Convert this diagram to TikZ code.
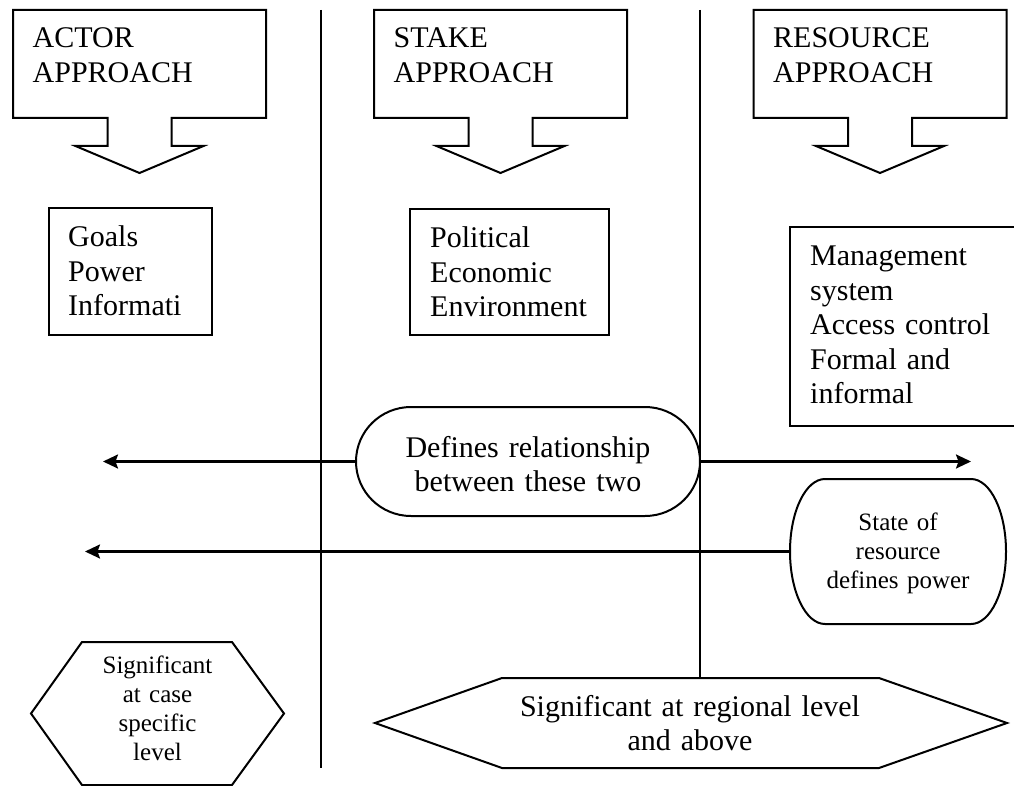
\documentclass[tikz,border=0pt]{standalone}
\usepackage{fontspec}
\setmainfont{Liberation Serif}
\usetikzlibrary{arrows.meta,calc}

% Heading box with a block arrow underneath: #1 name, #2 centre x, #3 heading
\newcommand\approachbox[3]{%
  \node[ghost, minimum width=253pt, minimum height=108pt] (#1) at (#2,64) {};
  \draw[frameline] (#1.north west) -- (#1.north east) -- (#1.south east)
     -- ($(#1.south)+(32,0)$) -- ($(#1.south)+(32,28)$) -- ($(#1.south)+(64,28)$)
     -- ($(#1.south)+(0,55)$) -- ($(#1.south)+(-64,28)$) -- ($(#1.south)+(-32,28)$)
     -- ($(#1.south)+(-32,0)$) -- (#1.south west) -- cycle;
  \node[leftlist] (#1-label) at ($(#1.north west)+(19.5,38)$) {#3};
}

\begin{document}
\begin{tikzpicture}[x=1pt,y=-1pt,
  big/.style={font=\fontsize{30}{34.5}\selectfont},
  small/.style={font=\fontsize{25}{29}\selectfont},
  ghost/.style={inner sep=0pt, outer sep=0pt},
  frameline/.style={line width=2pt, line join=miter},
  framebox/.style={ghost, draw, line width=2pt},
  leftlist/.style={big, inner sep=0pt, text width=240pt, align=left, anchor=base west},
  centred/.style={inner sep=0pt, text width=#1, align=center, anchor=base},
  divider/.style={line width=1.7pt},
  link/.style={line width=2.3pt, -{Stealth[length=15pt, width=14pt, inset=2.5pt]}},
]
\clip (0,0) rectangle (1014,786);
\fill[white] (0,0) rectangle (1014,786);

% column dividers
\coordinate (div1top) at (321,10);
\coordinate (div1end) at (321,768);
\coordinate (div2top) at (700,10);
\draw[divider] (div1top) -- (div1end);

% headings
\approachbox{actor}{139.5}{ACTOR\\APPROACH}
\approachbox{stake}{500.5}{STAKE\\APPROACH}
\approachbox{resource}{880}{RESOURCE\\APPROACH}

% content boxes
\node[framebox, minimum width=163pt, minimum height=127pt] (goals) at (130.5,271.5) {};
\node[leftlist] (goals-label) at ($(goals.north west)+(19,39)$) {Goals\\Power\\Informati};

\node[framebox, minimum width=199pt, minimum height=126pt] (political) at (509.5,272) {};
\node[leftlist] (political-label) at ($(political.north west)+(20,38.5)$) {Political\\Economic\\Environment};

\node[framebox, minimum width=260pt, minimum height=199pt] (management) at (920,326.5) {};
\node[leftlist] (management-label) at ($(management.north west)+(20,38.5)$) {Management\\system\\Access control\\Formal and\\informal};

% terminator: relationship
\node[ghost, minimum width=344pt, minimum height=109pt] (rel) at (528,461.5) {};
\draw[frameline] ([xshift=55pt]rel.north west) -- ([xshift=-55pt]rel.north east)
  arc[start angle=-90, end angle=90, x radius=55, y radius=54.5]
  -- ([xshift=55pt]rel.south west)
  arc[start angle=90, end angle=270, x radius=55, y radius=54.5] -- cycle;
\node[big, centred=330pt] (rel-label) at ($(rel.center)+(0,-4.5)$) {Defines relationship\\between these two};

% terminator: state of resource
\node[ghost, minimum width=216pt, minimum height=145pt] (state) at (898,551.5) {};
\draw[frameline] ([xshift=35pt]state.north west) -- ([xshift=-35pt]state.north east)
  arc[start angle=-90, end angle=90, x radius=35, y radius=72.5]
  -- ([xshift=35pt]state.south west)
  arc[start angle=90, end angle=270, x radius=35, y radius=72.5] -- cycle;
\node[small, centred=200pt] (state-label) at ($(state.center)+(0,-21.5)$) {State of\\resource\\defines power};

% arrows
\coordinate (relL) at (103,461.5);
\coordinate (relR) at (971,461.5);
\coordinate (stateL) at (85,551.5);
\draw[link] (rel.west) -- (relL);
\draw[link] (rel.east) -- (relR);
\draw[link] (state.west) -- (stateL);

% hexagon: case specific level
\node[ghost, minimum width=253pt, minimum height=143pt] (casehex) at (157.5,713.5) {};
\draw[frameline] ([xshift=51pt]casehex.north west) -- ([xshift=-52pt]casehex.north east)
  -- (casehex.east) -- ([xshift=-52pt]casehex.south east)
  -- ([xshift=51pt]casehex.south west) -- (casehex.west) -- cycle;
\node[small, centred=200pt] (casehex-label) at ($(casehex.center)+(0,-40.5)$) {Significant\\at case\\specific\\level};

% hexagon: regional level
\node[ghost, minimum width=632pt, minimum height=90pt] (reghex) at (691,723) {};
\draw[frameline] ([xshift=127pt]reghex.north west) -- ([xshift=-128pt]reghex.north east)
  -- (reghex.east) -- ([xshift=-128pt]reghex.south east)
  -- ([xshift=127pt]reghex.south west) -- (reghex.west) -- cycle;
\node[big, centred=500pt] (reghex-label) at ($(reghex.center)+(-1,-7)$) {Significant at regional level\\and above};

% right divider ends on the regional hexagon
\draw[divider] (div2top) -- (div2top |- reghex.north);
\end{tikzpicture}
\end{document}
